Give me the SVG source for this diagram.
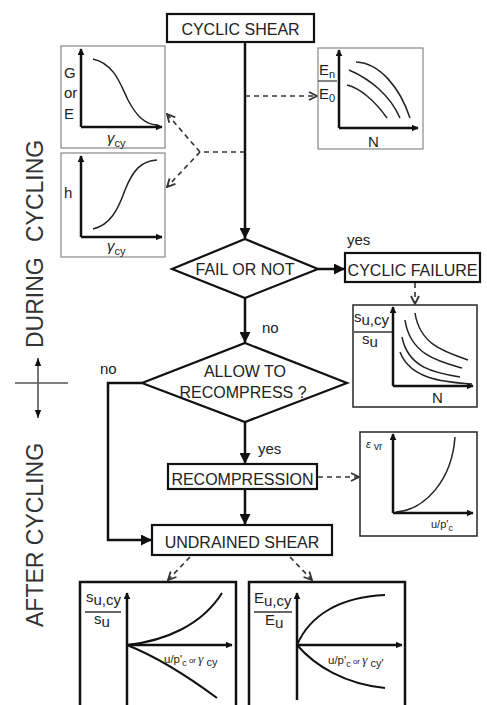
<svg xmlns="http://www.w3.org/2000/svg" width="487" height="705" viewBox="0 0 487 705">
<defs>
<style>
text{font-family:"Liberation Sans",Arial,sans-serif;fill:#222}
.box{fill:#fff;stroke:#111;stroke-width:2.2}
.bt{font-size:16px;text-anchor:middle}
.flow{fill:none;stroke:#111;stroke-width:2.5}
.dash{fill:none;stroke:#333;stroke-width:1.6;stroke-dasharray:5,4}
.pthin{fill:#fff;stroke:#888;stroke-width:1.2}
.pmed{fill:#fff;stroke:#333;stroke-width:1.6}
.pthick{fill:#fff;stroke:#111;stroke-width:2.5}
.axis{fill:none;stroke:#111;stroke-width:2.5}
.crv{fill:none;stroke:#222;stroke-width:1.5}
.lbl{font-size:15px}
.sm{font-size:11px}
.side{font-size:23px;fill:#333}
</style>
<marker id="ah" viewBox="0 0 10 10" refX="10" refY="5" markerWidth="11" markerHeight="11" markerUnits="userSpaceOnUse" orient="auto"><path d="M0,0 L10,5 L0,10 z" fill="#111"/></marker>
<marker id="ax" viewBox="0 0 10 10" refX="9" refY="5" markerWidth="7" markerHeight="7" markerUnits="userSpaceOnUse" orient="auto"><path d="M0,0 L10,5 L0,10 z" fill="#111"/></marker>
<marker id="ch" viewBox="0 0 10 10" refX="9" refY="5" markerWidth="10" markerHeight="10" markerUnits="userSpaceOnUse" orient="auto"><path d="M1,1 L9,5 L1,9" fill="none" stroke="#333" stroke-width="1.8"/></marker>
<marker id="cr" viewBox="0 0 10 10" refX="10" refY="5" markerWidth="8" markerHeight="8" markerUnits="userSpaceOnUse" orient="auto"><path d="M0,1 L10,5 L0,9 z" fill="#111"/></marker>
</defs>
<rect width="487" height="705" fill="#fff"/>

<!-- side labels -->
<g id="side-labels">
<text class="side" transform="translate(43,348) rotate(-90)">DURING <tspan x="106">CYCLING</tspan></text>
<text class="side" transform="translate(43,627) rotate(-90)">AFTER CYCLING</text>
<line x1="15" y1="383" x2="68" y2="383" stroke="#555" stroke-width="1.6"/>
<line x1="38" y1="383" x2="38" y2="358" stroke="#555" stroke-width="1.6" marker-end="url(#cr)"/>
<line x1="38" y1="383" x2="38" y2="418" stroke="#555" stroke-width="1.6" marker-end="url(#cr)"/>
</g>

<!-- connectors -->
<g id="connectors">
<line class="flow" x1="245" y1="42" x2="245" y2="239" marker-end="url(#ah)"/>
<line class="flow" x1="318" y1="269" x2="345" y2="269" marker-end="url(#ah)"/>
<line class="flow" x1="245" y1="298" x2="245" y2="343" marker-end="url(#ah)"/>
<line class="flow" x1="245" y1="422" x2="245" y2="464" marker-end="url(#ah)"/>
<line class="flow" x1="245" y1="489" x2="245" y2="525" marker-end="url(#ah)"/>
<polyline class="flow" points="142,383 108,383 108,540 152,540" marker-end="url(#ah)"/>
<line class="dash" x1="245" y1="96" x2="317" y2="96" marker-end="url(#ch)"/>
<line class="dash" x1="245" y1="152" x2="200" y2="152"/>
<line class="dash" x1="200" y1="152" x2="167" y2="114" marker-end="url(#ch)"/>
<line class="dash" x1="200" y1="152" x2="167" y2="187" marker-end="url(#ch)"/>
<line class="dash" x1="415" y1="283" x2="415" y2="304" marker-end="url(#ch)"/>
<line class="dash" x1="318" y1="477" x2="359" y2="477" marker-end="url(#ch)"/>
<line class="dash" x1="190" y1="557" x2="168" y2="580" marker-end="url(#ch)"/>
<line class="dash" x1="290" y1="557" x2="312" y2="580" marker-end="url(#ch)"/>
<text class="lbl" x="347" y="245">yes</text>
<text class="lbl" x="262" y="333">no</text>
<text class="lbl" x="100" y="374">no</text>
<text class="lbl" x="258" y="454">yes</text>
</g>

<!-- flow nodes -->
<g id="cyclic-shear"><rect class="box" x="167" y="14" width="147" height="28"/><text class="bt" x="240.5" y="35" font-size="16.5">CYCLIC SHEAR</text></g>
<g id="fail-or-not"><polygon class="box" points="245,239 318,269 245,298 172,269"/><text class="bt" x="245" y="275" font-size="15.5">FAIL OR NOT</text></g>
<g id="cyclic-failure"><rect class="box" x="345" y="253" width="135" height="29"/><text class="bt" x="412.5" y="276" font-size="15.5">CYCLIC FAILURE</text></g>
<g id="allow-recompress"><polygon class="box" points="245,343 347,383 245,422 142,383"/><text class="bt" x="245" y="377">ALLOW  TO</text><text class="bt" x="243" y="398">RECOMPRESS ?</text></g>
<g id="recompression"><rect class="box" x="168" y="464" width="149" height="25"/><text class="bt" x="242.5" y="485" font-size="15.5">RECOMPRESSION</text></g>
<g id="undrained-shear"><rect class="box" x="152" y="525" width="180" height="30"/><text class="bt" x="242" y="548" font-size="16.5">UNDRAINED SHEAR</text></g>

<!-- plot: G or E vs gamma -->
<g id="plot-g-e">
<rect class="pthin" x="61" y="46" width="104" height="102"/>
<line class="axis" x1="81" y1="127" x2="81" y2="49" marker-end="url(#ax)"/>
<line class="axis" x1="81" y1="127" x2="162" y2="127" marker-end="url(#ax)"/>
<path class="crv" d="M93,59 C115,64 121,86 128,100 C137,117 145,124 157,125"/>
<text class="lbl" x="64" y="78">G</text>
<text class="lbl" x="64" y="98">or</text>
<text class="lbl" x="64" y="119">E</text>
<text class="lbl" x="107" y="143" font-style="italic" font-family="Liberation Serif,serif">γ<tspan class="sm" dy="4" font-style="normal" font-family="Liberation Sans,sans-serif">cy</tspan></text>
</g>

<!-- plot: h vs gamma -->
<g id="plot-h">
<rect class="pthin" x="61" y="153" width="104" height="104"/>
<line class="axis" x1="81" y1="237" x2="81" y2="156" marker-end="url(#ax)"/>
<line class="axis" x1="81" y1="237" x2="162" y2="237" marker-end="url(#ax)"/>
<path class="crv" d="M93,229 C110,225 118,210 125,190 C133,170 141,161 157,160"/>
<text class="lbl" x="64" y="198">h</text>
<text class="lbl" x="107" y="251" font-style="italic" font-family="Liberation Serif,serif">γ<tspan class="sm" dy="4" font-style="normal" font-family="Liberation Sans,sans-serif">cy</tspan></text>
</g>

<!-- plot: En/E0 vs N -->
<g id="plot-en-e0">
<rect class="pthin" x="318" y="48" width="105" height="101"/>
<line class="axis" x1="339" y1="128" x2="339" y2="50" marker-end="url(#ax)"/>
<line class="axis" x1="339" y1="128" x2="418" y2="128" marker-end="url(#ax)"/>
<path class="crv" d="M356,62 C380,63 400,88 410,118"/>
<path class="crv" d="M349,70 C370,79 390,95 400,118"/>
<path class="crv" d="M347,85 C360,88 375,101 387,118"/>
<text class="lbl" x="319" y="75">E<tspan class="sm" dy="3">n</tspan></text>
<line x1="318" y1="81" x2="337" y2="81" stroke="#333" stroke-width="1.2"/>
<text class="lbl" x="319" y="99">E<tspan class="sm" dy="3">0</tspan></text>
<text class="lbl" x="368" y="147">N</text>
</g>

<!-- plot: su,cy/su vs N -->
<g id="plot-cyclic-failure">
<rect class="pmed" x="353" y="305" width="124" height="102"/>
<line class="axis" x1="393" y1="386" x2="393" y2="307" marker-end="url(#ax)"/>
<line class="axis" x1="393" y1="386" x2="473" y2="386" marker-end="url(#ax)"/>
<path class="crv" d="M415,313 C420,345 445,352 468,360"/>
<path class="crv" d="M405,320 C410,355 440,362 462,368"/>
<path class="crv" d="M402,337 C408,368 435,373 460,377"/>
<path class="crv" d="M400,352 C410,378 440,382 472,384"/>
<text class="lbl" x="354" y="322">s<tspan dy="3">u,cy</tspan></text>
<line x1="354" y1="332" x2="392" y2="332" stroke="#333" stroke-width="1.3"/>
<text class="lbl" x="362" y="344">s<tspan dy="3">u</tspan></text>
<text class="lbl" x="432" y="403">N</text>
</g>

<!-- plot: eps_vr vs u/p'c -->
<g id="plot-recompression">
<rect class="pmed" x="360" y="432" width="117" height="104"/>
<line class="axis" x1="393" y1="513" x2="393" y2="434" marker-end="url(#ax)"/>
<line class="axis" x1="393" y1="513" x2="473" y2="513" marker-end="url(#ax)"/>
<path class="crv" d="M396,512 C425,510 452,480 455,437"/>
<text x="366" y="448" font-size="11" font-family="Liberation Serif,serif" font-style="italic">ε <tspan font-size="10" font-style="normal" font-family="Liberation Sans,sans-serif" dy="2">vr</tspan></text>
<text x="431" y="528" font-size="11">u/p'<tspan font-size="9" dy="3">c</tspan></text>
</g>

<!-- plot: su,cy/su bottom -->
<g id="plot-su-after">
<rect class="pthick" x="80" y="582" width="156" height="130"/>
<line class="axis" x1="127" y1="705" x2="127" y2="593" marker-end="url(#ax)"/>
<line class="axis" x1="127" y1="645" x2="232" y2="645" marker-end="url(#ax)"/>
<path class="axis" style="stroke-width:2" d="M127,645 C165,641 202,625 222,593"/>
<path class="axis" style="stroke-width:2" d="M127,645 C160,658 190,678 217,698"/>
<text class="lbl" x="86" y="602">s<tspan dy="3">u,cy</tspan></text>
<line x1="85" y1="612" x2="121" y2="612" stroke="#333" stroke-width="1.3"/>
<text class="lbl" x="94" y="624">s<tspan dy="3">u</tspan></text>
<text x="164" y="663" font-size="11.5">u/p'<tspan font-size="9" dy="3">c</tspan><tspan font-size="8" dy="-3"> or </tspan><tspan font-family="Liberation Serif,serif" font-style="italic" font-size="13">γ</tspan><tspan font-size="11" dy="3"> cy</tspan></text>
</g>

<!-- plot: Eu,cy/Eu bottom -->
<g id="plot-eu-after">
<rect class="pthick" x="249" y="582" width="156" height="130"/>
<line class="axis" x1="297" y1="700" x2="297" y2="593" marker-end="url(#ax)"/>
<line class="axis" x1="297" y1="645" x2="402" y2="645" marker-end="url(#ax)"/>
<path class="axis" style="stroke-width:2" d="M297,645 C310,615 340,597 385,595"/>
<path class="axis" style="stroke-width:2" d="M297,645 C315,666 345,684 385,688"/>
<text class="lbl" x="254" y="603">E<tspan dy="3">u,cy</tspan></text>
<line x1="254" y1="612" x2="292" y2="612" stroke="#333" stroke-width="1.3"/>
<text class="lbl" x="265" y="625">E<tspan dy="3">u</tspan></text>
<text x="328" y="664" font-size="11.5">u/p'<tspan font-size="9" dy="3">c</tspan><tspan font-size="8" dy="-3"> or </tspan><tspan font-family="Liberation Serif,serif" font-style="italic" font-size="13">γ</tspan><tspan font-size="11" dy="3"> cy'</tspan></text>
</g>
</svg>
